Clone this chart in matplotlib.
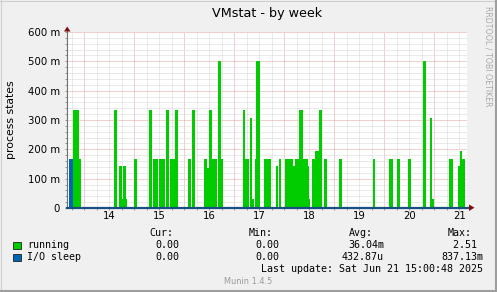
import numpy as np
import matplotlib
matplotlib.use('Agg')
import matplotlib.pyplot as plt
from matplotlib.patches import Rectangle, Polygon
from matplotlib.lines import Line2D
from matplotlib.transforms import blended_transform_factory

W, H = 497, 292

# time axis in days of June, window of 8 days ending at last update
t_start, t_end = 13.654, 21.654

# "running" samples: start day, end day, value (processes)
run_start = [13.78, 13.90, 14.59, 14.70, 14.75, 14.78, 14.83, 15.00, 15.30, 15.37,
             15.50, 15.64, 15.71, 15.81, 16.08, 16.15, 16.40, 16.45, 16.50, 16.55,
             16.68, 16.74, 17.18, 17.22, 17.32, 17.36, 17.41, 17.44, 17.60, 17.83,
             17.89, 18.02, 18.18, 18.22, 18.30, 18.37, 18.47, 18.50, 18.55, 18.62,
             18.69, 18.80, 19.10, 19.77, 20.10, 20.26, 20.48, 20.78, 20.92, 20.96,
             21.30, 21.47, 21.51, 21.55]
run_end = [13.90, 13.94, 14.65, 14.75, 14.78, 14.83, 14.85, 15.06, 15.36, 15.47,
           15.62, 15.70, 15.81, 15.88, 16.14, 16.22, 16.45, 16.50, 16.55, 16.65,
           16.74, 16.78, 17.22, 17.29, 17.36, 17.39, 17.44, 17.51, 17.74, 17.88,
           17.94, 18.18, 18.22, 18.30, 18.37, 18.47, 18.50, 18.52, 18.62, 18.69,
           18.75, 18.85, 19.16, 19.82, 20.17, 20.32, 20.54, 20.84, 20.96, 21.00,
           21.38, 21.51, 21.55, 21.61]
run_value = [0.333, 0.167, 0.333, 0.142, 0.03, 0.142, 0.03, 0.167, 0.333, 0.167,
             0.167, 0.333, 0.167, 0.333, 0.167, 0.333, 0.167, 0.138, 0.333, 0.167,
             0.5, 0.167, 0.333, 0.167, 0.306, 0.03, 0.167, 0.5, 0.167, 0.142,
             0.167, 0.167, 0.142, 0.167, 0.333, 0.167, 0.142, 0.03, 0.167, 0.196,
             0.333, 0.167, 0.167, 0.167, 0.167, 0.167, 0.167, 0.5, 0.306, 0.03,
             0.167, 0.142, 0.196, 0.167]

# "I/O sleep" samples
sleep_start = [13.70]
sleep_end = [13.77]
sleep_value = [0.1667]

days = [14, 15, 16, 17, 18, 19, 20, 21]
y_ticks = [0, 0.1, 0.2, 0.3, 0.4, 0.5, 0.6]
y_labels = ['0', '100 m', '200 m', '300 m', '400 m', '500 m', '600 m']

legend_names = ['running', 'I/O sleep']
legend_colors = ['#00CC00', '#0066B3']
cur_vals = ['0.00', '0.00']
min_vals = ['0.00', '0.00']
avg_vals = ['36.04m', '432.87u']
max_vals = ['2.51', '837.13m']

GREEN, BLUE = legend_colors
BG = '#f0f0f0'
MINOR = '#d6d6d6'
MAJOR = '#e8a2a2'
ARROW = '#7f1010'


def fx(px):
    return px / W


def fy(py):
    return 1 - py / H


fig = plt.figure(figsize=(W / 100, H / 100), dpi=100, facecolor=BG)
ax = fig.add_axes([fx(67), fy(208), 400 / W, 176 / H])
ax.set_facecolor('white')
for s in ax.spines.values():
    s.set_visible(False)

ax.set_xlim(t_start, t_end)
ax.set_ylim(0, 0.6)

# grid
for t in np.arange(13.75, t_end, 0.25):
    if abs(t - round(t)) > 1e-6:
        ax.axvline(t, color=MINOR, lw=0.72, dashes=(1, 1), zorder=0)
for d in days:
    ax.axvline(d, color=MAJOR, lw=0.72, dashes=(1, 1), zorder=0)
for v in np.arange(0.02, 0.61, 0.02):
    if abs(v * 10 - round(v * 10)) > 1e-6:
        ax.axhline(v, color=MINOR, lw=0.72, dashes=(1, 1), zorder=0)
for v in y_ticks[1:]:
    ax.axhline(v, color=MAJOR, lw=0.72, dashes=(1, 1), zorder=0)

# data
ax.bar(run_start, np.array(run_value), width=np.array(run_end) - np.array(run_start),
       align='edge', color=GREEN, linewidth=0, zorder=2)
ax.bar(sleep_start, np.array(sleep_value), width=np.array(sleep_end) - np.array(sleep_start),
       align='edge', color=BLUE, linewidth=0, zorder=2)

# ticks
ax.set_yticks(y_ticks)
ax.set_yticklabels(y_labels)
ax.set_yticks(np.arange(0, 0.61, 0.02), minor=True)
ax.set_xticks(days)
ax.set_xticklabels([])
ax.set_xticks(np.arange(13.75, t_end, 0.25), minor=True)
ax.tick_params(axis='y', which='both', length=1.5, width=0.6, color='#888888',
               pad=3.6, labelsize=7.3)
ax.tick_params(axis='x', which='both', length=1.5, width=0.6, color='#888888')

tr = blended_transform_factory(ax.transData, fig.transFigure)
for d in days:
    ax.text(d + 0.5, fy(216), str(d), transform=tr, ha='center', va='center',
            fontsize=7.3)

# axes lines and arrows
ax.plot([0, 0], [0, (208 - 30) / 176], transform=ax.transAxes, color='#707070',
        lw=0.8, clip_on=False, zorder=3)
ax.plot([0, 402 / 400], [0, 0], transform=ax.transAxes, color='#1a4f82',
        lw=1.6, clip_on=False, zorder=3)
fig.add_artist(Polygon([[fx(64), fy(31.5)], [fx(70.5), fy(31.5)], [fx(67.2), fy(26.5)]],
                       closed=True, transform=fig.transFigure, color=ARROW, lw=0))
fig.add_artist(Polygon([[fx(469), fy(204.5)], [fx(469), fy(211)], [fx(474.5), fy(207.7)]],
                       closed=True, transform=fig.transFigure, color=ARROW, lw=0))

# texts
fig.text(fx(267), fy(14), 'VMstat - by week', ha='center', va='center', fontsize=9.2)
fig.text(fx(11), fy(120), 'process states', rotation=90, ha='center', va='center',
         fontsize=7.8)
fig.text(fx(488), fy(56), 'RRDTOOL / TOBI OETIKER', rotation=270, ha='center',
         va='center', fontsize=5.7, color='#aaaaaa')

mono = dict(family='DejaVu Sans Mono', fontsize=7.2, va='center')
for x, lab in zip([149, 249, 349, 448], ['Cur:', 'Min:', 'Avg:', 'Max:']):
    fig.text(fx(x), fy(233), lab, **mono)
rows_y = [245, 257]
for i in range(len(legend_names)):
    y = rows_y[i]
    fig.add_artist(Rectangle((fx(13), fy(y + 3.5)), 8 / W, 7 / H, transform=fig.transFigure,
                             facecolor=legend_colors[i], edgecolor='#222222', lw=0.6))
    fig.text(fx(27), fy(y), legend_names[i], **mono)
    fig.text(fx(179), fy(y), cur_vals[i], ha='right', **mono)
    fig.text(fx(279), fy(y), min_vals[i], ha='right', **mono)
    fig.text(fx(384), fy(y), avg_vals[i], ha='right', **mono)
    fig.text(fx(483), fy(y), max_vals[i] if max_vals[i][-1].isalpha() else max_vals[i] + ' ',
             ha='right', **mono)
fig.text(fx(483), fy(269), 'Last update: Sat Jun 21 15:00:48 2025', ha='right', **mono)
fig.text(fx(248.5), fy(281), 'Munin 1.4.5', ha='center', va='center', fontsize=5.9,
         color='#999999')

# image frame
fig.add_artist(Line2D([0, 1], [fy(0.5), fy(0.5)], transform=fig.transFigure, color='#cfcfcf', lw=0.8))
fig.add_artist(Line2D([fx(0.5), fx(0.5)], [0, 1], transform=fig.transFigure, color='#cfcfcf', lw=0.8))
fig.add_artist(Line2D([0, 1], [fy(291), fy(291)], transform=fig.transFigure, color='#9e9e9e', lw=1.5))
fig.add_artist(Line2D([fx(496), fx(496)], [0, 1], transform=fig.transFigure, color='#9e9e9e', lw=1.5))

fig.savefig('out.png', dpi=100, facecolor=BG)
